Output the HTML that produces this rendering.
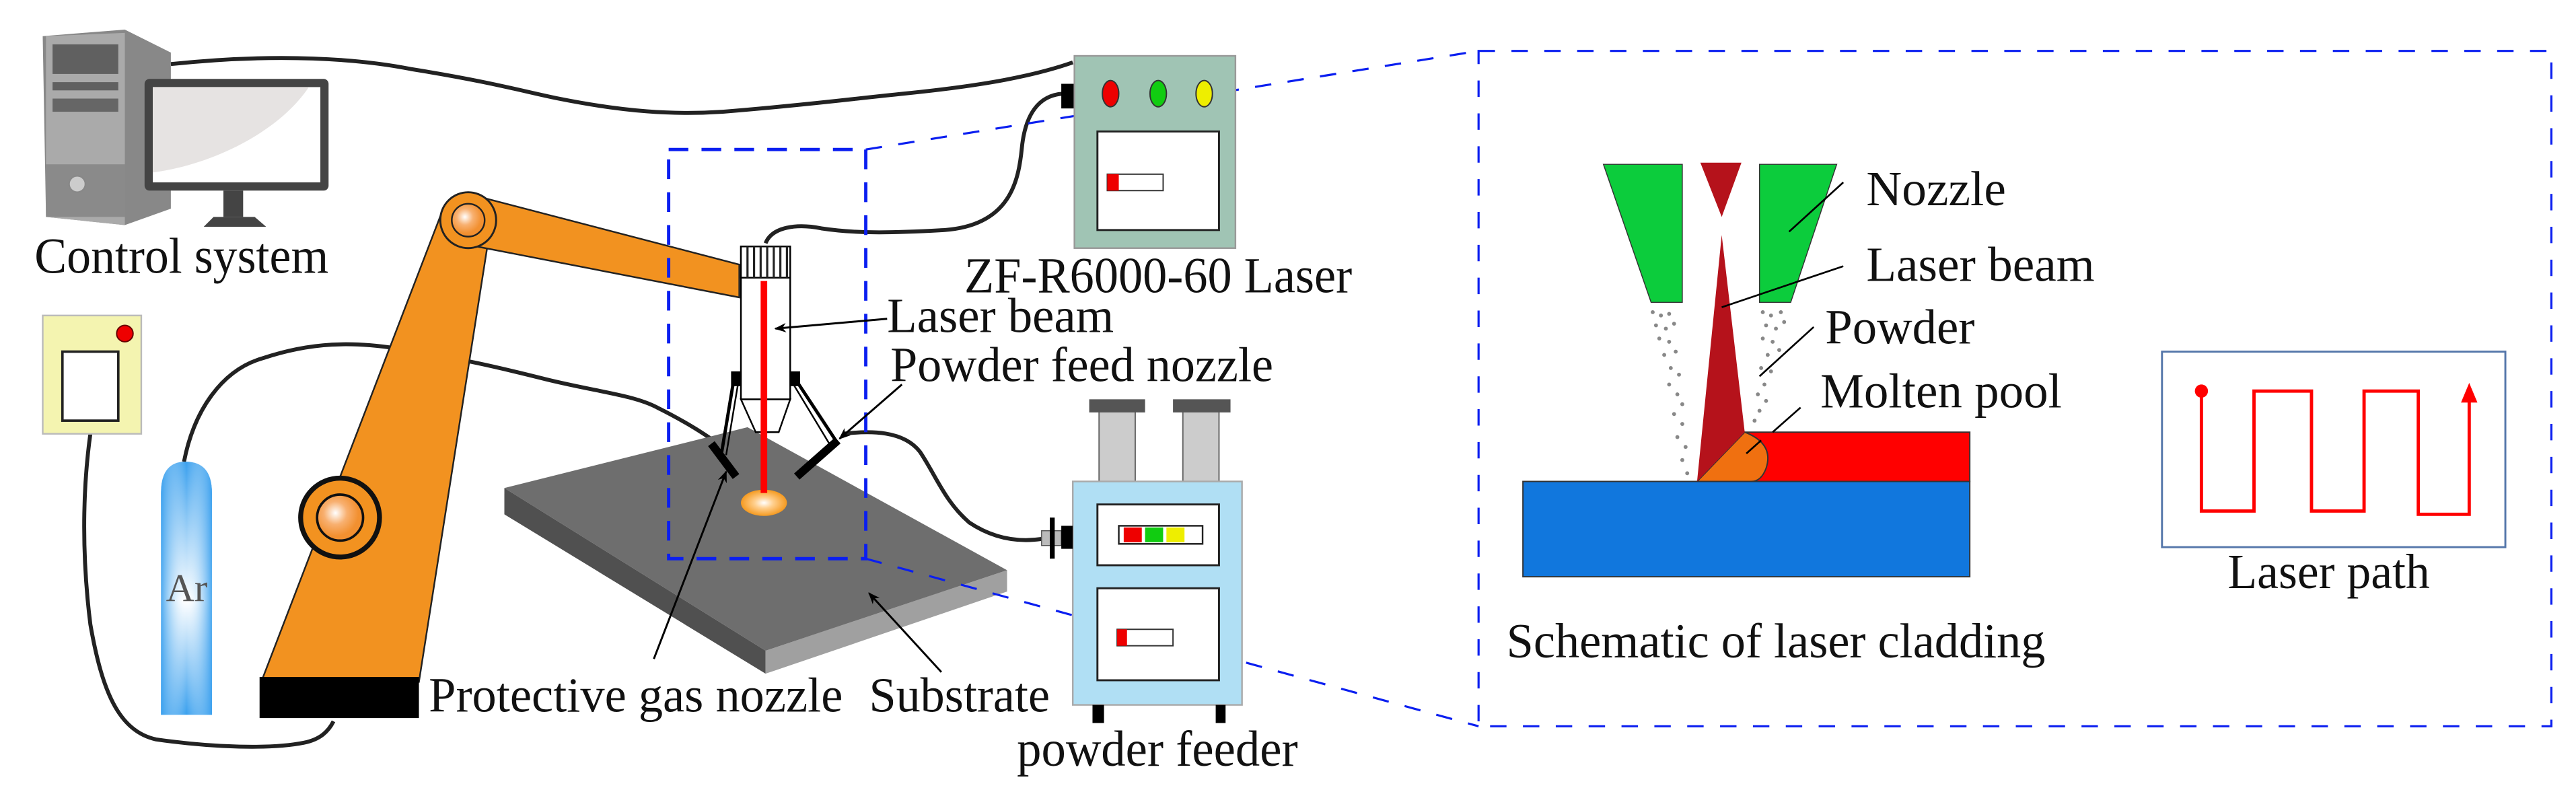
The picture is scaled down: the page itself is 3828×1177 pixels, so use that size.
<!DOCTYPE html>
<html><head><meta charset="utf-8"><style>html,body{margin:0;padding:0;background:#fff}svg{display:block}svg text{font-family:"Liberation Serif","Times New Roman","DejaVu Serif",serif;fill:#111}</style></head><body>
<svg width="3828" height="1177" viewBox="0 0 1568 482" preserveAspectRatio="none" xmlns="http://www.w3.org/2000/svg" font-family="Liberation Serif, Times New Roman, DejaVu Serif, serif">
<defs>
<radialGradient id="glow"><stop offset="0" stop-color="#fff"/><stop offset="0.4" stop-color="#ffd090"/><stop offset="1" stop-color="#f59a20"/></radialGradient>
<radialGradient id="joint" cx="0.4" cy="0.4"><stop offset="0" stop-color="#fff"/><stop offset="0.5" stop-color="#f8b070"/><stop offset="1" stop-color="#f29030"/></radialGradient>
<linearGradient id="ar" x1="0" y1="0" x2="0" y2="1"><stop offset="0" stop-color="#3aa0ee"/><stop offset="0.55" stop-color="#ffffff"/><stop offset="1" stop-color="#3aa0ee"/></linearGradient>
<linearGradient id="arh" x1="0" y1="0" x2="1" y2="0"><stop offset="0" stop-color="#3aa0ee" stop-opacity="0.9"/><stop offset="0.5" stop-color="#fff" stop-opacity="0"/><stop offset="1" stop-color="#3aa0ee" stop-opacity="0.9"/></linearGradient>
<marker id="ah" viewBox="0 0 10 10" refX="9" refY="5" markerWidth="6" markerHeight="6" orient="auto"><path d="M0,1 L10,5 L0,9 L3,5z" fill="#000"/></marker>
</defs>

<!-- cables -->
<g fill="none" stroke="#222" stroke-width="2.4">
<path d="M104,39 C170,32 220,36 250,42 C300,50 320,56 340,60 C380,68 410,70 440,68 C490,64 520,60 550,57 C600,52 630,46 653,38"/>
<path d="M466,148 C470,138 485,136 500,139 C520,142 540,142 575,140 C615,137 620,110 622,90 C624,70 632,58 647,57"/>
<path d="M112,281 C118,250 135,225 160,218 C190,208 215,208 241,212 C280,218 305,224 329,230 C360,238 385,240 400,248 C420,258 430,265 440,272"/>
<path d="M513,264 C530,262 550,262 560,275 C570,290 575,305 590,318 C605,328 620,330 634,328"/>
<path d="M55,264 C50,300 50,340 55,380 C62,420 72,445 95,450 C130,455 165,456 185,452 C195,450 200,445 203,439"/>
</g>

<!-- computer -->
<polygon points="26,22 76,18 104,32 104,127 76,137 28,132" fill="#888"/>
<polygon points="28,22 76,20 76,137 28,132" fill="#aaa"/>
<rect x="32" y="27" width="40" height="18" fill="#606060"/>
<rect x="32" y="50" width="40" height="5" fill="#606060"/>
<rect x="32" y="60" width="40" height="8" fill="#666"/>
<rect x="28" y="100" width="48" height="32" fill="#8a8a8a"/>
<circle cx="47" cy="112" r="5" fill="#ccc" stroke="#888"/>
<rect x="88" y="48" width="112" height="68" rx="3" fill="#444"/>
<rect x="93" y="53" width="102" height="58" fill="#fff"/>
<path d="M93,53 H188 C170,80 130,100 93,105 Z" fill="#e6e3e2"/>
<rect x="136" y="116" width="12" height="16" fill="#444"/>
<polygon points="130,132 155,132 162,138 124,138" fill="#444"/>
<text x="21" y="166" font-size="31" textLength="179" lengthAdjust="spacingAndGlyphs">Control system</text>

<!-- yellow box -->
<rect x="26" y="192" width="60" height="72" fill="#f4f4b0" stroke="#bbb" stroke-width="1"/>
<rect x="38" y="214" width="34" height="42" fill="#fff" stroke="#222" stroke-width="1.5"/>
<circle cx="76" cy="203" r="5" fill="#e00" stroke="#600" stroke-width="0.8"/>

<!-- Ar cylinder -->
<path d="M98,435 V300 Q98,281 113,281 Q129,281 129,300 V435 Z" fill="url(#ar)"/>
<path d="M98,435 V300 Q98,281 113,281 Q129,281 129,300 V435 Z" fill="url(#arh)"/>
<text x="101" y="366" font-size="24" fill="#555" style="fill:#555">Ar</text>

<!-- robot arm -->
<polygon points="159,415 269,129 299,135 255,415" fill="#f29220" stroke="#222" stroke-width="1"/>
<polygon points="285,118 450,161 450,181 285,149" fill="#f29220" stroke="#222" stroke-width="1"/>
<circle cx="285" cy="134" r="17" fill="#f29220" stroke="#222" stroke-width="1.2"/>
<circle cx="285" cy="134" r="10" fill="url(#joint)" stroke="#222" stroke-width="1"/>
<circle cx="207" cy="315" r="24" fill="#f29220" stroke="#111" stroke-width="3"/>
<circle cx="207" cy="315" r="14" fill="url(#joint)" stroke="#111" stroke-width="1.5"/>
<rect x="158" y="412" width="97" height="25" fill="#000"/>

<!-- substrate -->
<polygon points="307,297 307,313 466,410 466,396" fill="#505050"/>
<polygon points="466,396 613,347 613,360 466,410" fill="#a0a0a0"/>
<polygon points="307,297 455,260 613,347 466,396" fill="#6e6e6e"/>
<ellipse cx="465" cy="306" rx="14" ry="8" fill="url(#glow)"/>

<!-- laser head -->
<line x1="447" y1="229" x2="439" y2="277" stroke="#000" stroke-width="2"/>
<line x1="450" y1="229" x2="442" y2="277" stroke="#000" stroke-width="1"/>
<line x1="483" y1="229" x2="510" y2="270" stroke="#000" stroke-width="2"/>
<line x1="480" y1="229" x2="506" y2="272" stroke="#000" stroke-width="1"/>
<polygon points="451,243 481,243 474,263 460,263" fill="#fff" stroke="#000" stroke-width="1"/>
<rect x="451" y="150" width="30" height="93" fill="#fff" stroke="#000" stroke-width="1"/>
<rect x="451" y="150" width="30" height="19" fill="#fff" stroke="#000" stroke-width="1"/>
<g stroke="#222" stroke-width="1.3"><line x1="455" y1="150" x2="455" y2="169"/><line x1="459" y1="150" x2="459" y2="169"/><line x1="463" y1="150" x2="463" y2="169"/><line x1="467" y1="150" x2="467" y2="169"/><line x1="471" y1="150" x2="471" y2="169"/><line x1="475" y1="150" x2="475" y2="169"/><line x1="479" y1="150" x2="479" y2="169"/></g>
<rect x="445" y="226" width="6" height="9" fill="#000"/><rect x="481" y="226" width="6" height="9" fill="#000"/>
<line x1="465" y1="171" x2="465" y2="300" stroke="#f00" stroke-width="4"/>
<line x1="433" y1="270" x2="448" y2="290" stroke="#000" stroke-width="5"/>
<line x1="510" y1="268" x2="485" y2="290" stroke="#000" stroke-width="5"/>

<!-- small dashed rect + connectors -->
<rect x="407" y="91" width="120" height="249" fill="none" stroke="#0a1ef0" stroke-width="2" stroke-dasharray="12,8"/>
<g fill="none" stroke="#0a1ef0" stroke-width="1.3" stroke-dasharray="10,10">
<line x1="527" y1="91" x2="900" y2="31"/>
<line x1="527" y1="340" x2="900" y2="442"/>
</g>

<!-- laser box -->
<rect x="646" y="51" width="8" height="15" fill="#000"/>
<rect x="654" y="34" width="98" height="117" fill="#a0c4b4" stroke="#999" stroke-width="1"/>
<ellipse cx="676" cy="57" rx="5" ry="8" fill="#e00" stroke="#333" stroke-width="0.8"/>
<ellipse cx="705" cy="57" rx="5" ry="8" fill="#1c1" stroke="#333" stroke-width="0.8"/>
<ellipse cx="733" cy="57" rx="5" ry="8" fill="#ee0" stroke="#333" stroke-width="0.8"/>
<rect x="668" y="80" width="74" height="60" fill="#fff" stroke="#222" stroke-width="1.2"/>
<rect x="674" y="106" width="34" height="10" fill="#fff" stroke="#333" stroke-width="0.8"/>
<rect x="674" y="106" width="7" height="10" fill="#e00"/>
<text x="587" y="178" font-size="31" textLength="236" lengthAdjust="spacingAndGlyphs">ZF-R6000-60 Laser</text>

<!-- powder feeder -->
<rect x="669" y="250" width="22" height="43" fill="#ccc" stroke="#666" stroke-width="0.8"/>
<rect x="720" y="250" width="22" height="43" fill="#ccc" stroke="#666" stroke-width="0.8"/>
<rect x="663" y="243" width="34" height="8" fill="#555"/>
<rect x="714" y="243" width="35" height="8" fill="#555"/>
<rect x="653" y="293" width="103" height="136" fill="#b0dff4" stroke="#aaa" stroke-width="1"/>
<rect x="668" y="307" width="74" height="37" fill="#fff" stroke="#222" stroke-width="1.2"/>
<rect x="681" y="320" width="51" height="11" fill="#fff" stroke="#222" stroke-width="1"/>
<rect x="684" y="321" width="11" height="9" fill="#e00"/><rect x="697" y="321" width="11" height="9" fill="#1c1"/><rect x="710" y="321" width="11" height="9" fill="#ee0"/>
<rect x="668" y="358" width="74" height="56" fill="#fff" stroke="#222" stroke-width="1.2"/>
<rect x="680" y="383" width="34" height="10" fill="#fff" stroke="#333" stroke-width="0.8"/>
<rect x="680" y="383" width="6" height="10" fill="#e00"/>
<rect x="665" y="429" width="7" height="11" fill="#000"/><rect x="740" y="429" width="6" height="11" fill="#000"/>
<rect x="634" y="323" width="12" height="9" fill="#bbb" stroke="#555" stroke-width="0.6"/>
<rect x="639" y="315" width="3" height="25" fill="#000"/>
<rect x="646" y="320" width="7" height="14" fill="#000"/>
<text x="619" y="466" font-size="31" textLength="171" lengthAdjust="spacingAndGlyphs">powder feeder</text>

<!-- left labels + leaders -->
<g stroke="#000" stroke-width="1.2" fill="none">
<line x1="540" y1="194" x2="472" y2="200" marker-end="url(#ah)"/>
<line x1="549" y1="234" x2="511" y2="267" marker-end="url(#ah)"/>
<line x1="398" y1="401" x2="442" y2="287" marker-end="url(#ah)"/>
<line x1="573" y1="409" x2="529" y2="361" marker-end="url(#ah)"/>
</g>
<text x="540" y="202" font-size="30" textLength="138" lengthAdjust="spacingAndGlyphs">Laser beam</text>
<text x="542" y="232" font-size="30" textLength="233" lengthAdjust="spacingAndGlyphs">Powder feed nozzle</text>
<text x="261" y="433" font-size="30" textLength="252" lengthAdjust="spacingAndGlyphs">Protective gas nozzle</text>
<text x="529" y="433" font-size="30" textLength="110" lengthAdjust="spacingAndGlyphs">Substrate</text>

<!-- big dashed rect -->
<rect x="900" y="31" width="653" height="411" fill="none" stroke="#0a1ef0" stroke-width="1.3" stroke-dasharray="10,10"/>

<!-- cladding schematic -->
<rect x="927" y="293" width="272" height="58" fill="#1177dd" stroke="#333" stroke-width="0.8"/>
<rect x="1062" y="263" width="137" height="30" fill="#f00" stroke="#333" stroke-width="0.8"/>
<path d="M1033,293 L1062,263 Q1080,270 1075,285 Q1072,293 1066,293 Z" fill="#f07010" stroke="#333" stroke-width="0.8"/>
<polygon points="1048,143 1033,293 1062,263" fill="#b5121b"/>
<polygon points="1035,99 1060,99 1048,132" fill="#b5121b"/>
<polygon points="976,100 1024,100 1024,184 1005,184" fill="#0ccc3c" stroke="#333" stroke-width="0.6"/>
<polygon points="1071,100 1118,100 1090,184 1071,184" fill="#0ccc3c" stroke="#333" stroke-width="0.6"/>
<g fill="#888">
<circle cx="1006" cy="190" r="1.2"/><circle cx="1011" cy="192" r="1.2"/><circle cx="1016" cy="191" r="1.2"/><circle cx="1008" cy="198" r="1.2"/><circle cx="1014" cy="200" r="1.2"/><circle cx="1019" cy="197" r="1.2"/><circle cx="1010" cy="206" r="1.2"/><circle cx="1016" cy="208" r="1.2"/><circle cx="1020" cy="214" r="1.2"/><circle cx="1013" cy="216" r="1.2"/><circle cx="1017" cy="224" r="1.2"/><circle cx="1022" cy="228" r="1.2"/><circle cx="1016" cy="234" r="1.2"/><circle cx="1021" cy="240" r="1.2"/><circle cx="1024" cy="246" r="1.2"/><circle cx="1019" cy="252" r="1.2"/><circle cx="1024" cy="258" r="1.2"/><circle cx="1021" cy="266" r="1.2"/><circle cx="1026" cy="272" r="1.2"/><circle cx="1024" cy="280" r="1.2"/><circle cx="1027" cy="288" r="1.2"/>
<circle cx="1073" cy="190" r="1.2"/><circle cx="1078" cy="192" r="1.2"/><circle cx="1084" cy="190" r="1.2"/><circle cx="1075" cy="198" r="1.2"/><circle cx="1081" cy="200" r="1.2"/><circle cx="1086" cy="196" r="1.2"/><circle cx="1073" cy="206" r="1.2"/><circle cx="1079" cy="208" r="1.2"/><circle cx="1083" cy="213" r="1.2"/><circle cx="1076" cy="216" r="1.2"/><circle cx="1072" cy="224" r="1.2"/><circle cx="1078" cy="226" r="1.2"/><circle cx="1074" cy="234" r="1.2"/><circle cx="1070" cy="240" r="1.2"/><circle cx="1075" cy="244" r="1.2"/><circle cx="1071" cy="250" r="1.2"/><circle cx="1068" cy="256" r="1.2"/>
</g>
<g stroke="#000" stroke-width="1.1">
<line x1="1122" y1="111" x2="1089" y2="141"/>
<line x1="1122" y1="162" x2="1048" y2="187"/>
<line x1="1104" y1="199" x2="1071" y2="229"/>
<line x1="1096" y1="248" x2="1079" y2="263"/>
<line x1="1072" y1="268" x2="1063" y2="276"/>
</g>
<text x="1136" y="125" font-size="30" textLength="85" lengthAdjust="spacingAndGlyphs">Nozzle</text>
<text x="1136" y="171" font-size="30" textLength="139" lengthAdjust="spacingAndGlyphs">Laser beam</text>
<text x="1111" y="209" font-size="30" textLength="91" lengthAdjust="spacingAndGlyphs">Powder</text>
<text x="1108" y="248" font-size="30" textLength="147" lengthAdjust="spacingAndGlyphs">Molten pool</text>
<text x="917" y="400" font-size="30" textLength="328" lengthAdjust="spacingAndGlyphs">Schematic of laser cladding</text>

<!-- laser path -->
<rect x="1316" y="214" width="209" height="119" fill="#fff" stroke="#5577aa" stroke-width="1.2"/>
<polyline points="1340,238 1340,311 1372,311 1372,238 1407,238 1407,311 1439,311 1439,238 1472,238 1472,313 1503,313 1503,242" fill="none" stroke="#f00" stroke-width="2"/>
<circle cx="1340" cy="238" r="4" fill="#f00"/>
<polygon points="1503,233 1498,245 1508,245" fill="#f00"/>
<text x="1356" y="358" font-size="30" textLength="123" lengthAdjust="spacingAndGlyphs">Laser path</text>
</svg>
</body></html>
